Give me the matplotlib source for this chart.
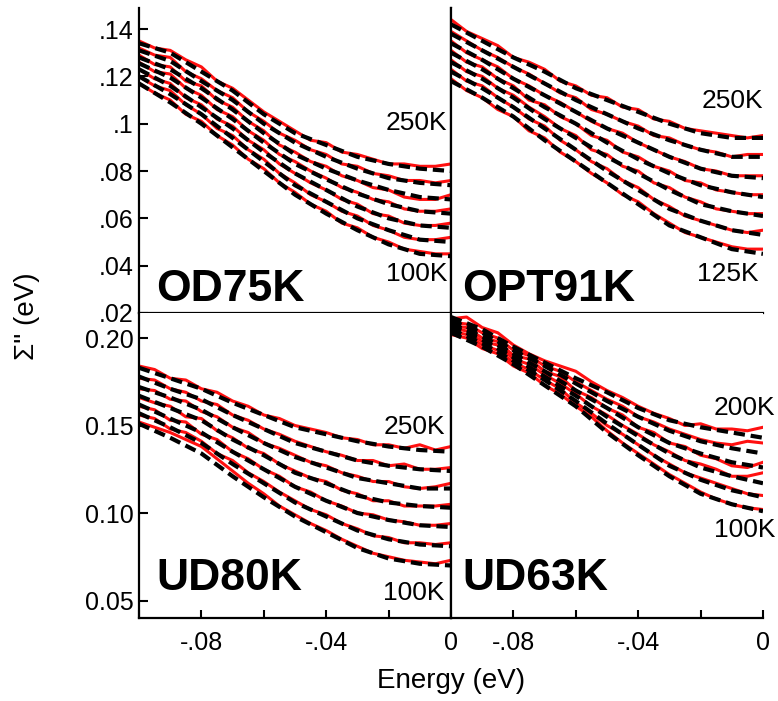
import matplotlib.pyplot as plt

plt.rcParams['font.family'] = ['Liberation Sans', 'DejaVu Sans']

# energy grids (eV)
energy_fit = [-0.10, -0.09, -0.08, -0.07, -0.06, -0.05, -0.04, -0.03, -0.02, -0.01, 0.0]
energy_data = [-0.100, -0.095, -0.090, -0.085, -0.080, -0.075, -0.070, -0.065, -0.060, -0.055,
               -0.050, -0.045, -0.040, -0.035, -0.030, -0.025, -0.020, -0.015, -0.010, -0.005, 0.0]

# OD75K, 250K ... 100K
od75_fit = [
    [0.134, 0.130, 0.122, 0.114, 0.104, 0.096, 0.091, 0.086, 0.083, 0.081, 0.080],
    [0.131, 0.1265, 0.118, 0.110, 0.100, 0.092, 0.086, 0.081, 0.077, 0.075, 0.074],
    [0.128, 0.123, 0.115, 0.106, 0.096, 0.087, 0.081, 0.076, 0.072, 0.069, 0.068],
    [0.1255, 0.1195, 0.111, 0.102, 0.092, 0.083, 0.0765, 0.0705, 0.066, 0.063, 0.062],
    [0.123, 0.116, 0.107, 0.098, 0.088, 0.079, 0.072, 0.065, 0.060, 0.057, 0.056],
    [0.120, 0.1125, 0.104, 0.094, 0.084, 0.074, 0.067, 0.060, 0.055, 0.051, 0.050],
    [0.117, 0.109, 0.100, 0.090, 0.080, 0.070, 0.062, 0.055, 0.049, 0.045, 0.044],
]
od75_data = [
    [0.135, 0.132, 0.131, 0.127, 0.124, 0.118, 0.115, 0.110, 0.105, 0.101, 0.097, 0.093, 0.092, 0.088, 0.087, 0.085, 0.083, 0.083, 0.082, 0.082, 0.083],
    [0.132, 0.129, 0.128, 0.122, 0.119, 0.114, 0.111, 0.105, 0.101, 0.096, 0.093, 0.089, 0.087, 0.083, 0.082, 0.079, 0.078, 0.076, 0.076, 0.075, 0.076],
    [0.129, 0.125, 0.124, 0.118, 0.116, 0.110, 0.107, 0.101, 0.097, 0.091, 0.088, 0.084, 0.082, 0.078, 0.076, 0.073, 0.072, 0.069, 0.068, 0.068, 0.070],
    [0.126, 0.122, 0.121, 0.115, 0.112, 0.106, 0.103, 0.097, 0.093, 0.087, 0.084, 0.080, 0.077, 0.073, 0.071, 0.068, 0.067, 0.064, 0.063, 0.063, 0.064],
    [0.123, 0.119, 0.117, 0.111, 0.108, 0.102, 0.099, 0.093, 0.089, 0.083, 0.079, 0.075, 0.072, 0.068, 0.066, 0.062, 0.061, 0.058, 0.057, 0.057, 0.058],
    [0.120, 0.116, 0.114, 0.108, 0.104, 0.098, 0.095, 0.089, 0.085, 0.079, 0.075, 0.070, 0.067, 0.063, 0.061, 0.057, 0.055, 0.052, 0.051, 0.051, 0.052],
    [0.117, 0.113, 0.110, 0.104, 0.101, 0.095, 0.091, 0.085, 0.081, 0.075, 0.071, 0.066, 0.063, 0.058, 0.056, 0.052, 0.050, 0.047, 0.046, 0.045, 0.045],
]

# OPT91K, 250K ... 125K
opt91_fit = [
    [0.142, 0.135, 0.128, 0.122, 0.115, 0.110, 0.105, 0.100, 0.096, 0.094, 0.094],
    [0.138, 0.131, 0.124, 0.117, 0.110, 0.104, 0.098, 0.093, 0.089, 0.086, 0.086],
    [0.134, 0.127, 0.119, 0.112, 0.105, 0.098, 0.092, 0.086, 0.081, 0.078, 0.077],
    [0.130, 0.123, 0.115, 0.107, 0.100, 0.092, 0.085, 0.079, 0.074, 0.071, 0.069],
    [0.126, 0.119, 0.111, 0.102, 0.094, 0.086, 0.079, 0.072, 0.066, 0.063, 0.061],
    [0.122, 0.115, 0.107, 0.098, 0.089, 0.080, 0.072, 0.064, 0.059, 0.055, 0.053],
    [0.118, 0.111, 0.103, 0.093, 0.084, 0.075, 0.066, 0.057, 0.052, 0.047, 0.045],
]
opt91_data = [
    [0.144, 0.139, 0.136, 0.133, 0.128, 0.126, 0.123, 0.118, 0.116, 0.112, 0.111, 0.107, 0.106, 0.102, 0.101, 0.098, 0.097, 0.096, 0.095, 0.094, 0.095],
    [0.139, 0.135, 0.131, 0.128, 0.124, 0.121, 0.117, 0.113, 0.111, 0.106, 0.104, 0.101, 0.099, 0.095, 0.094, 0.091, 0.089, 0.088, 0.086, 0.087, 0.087],
    [0.135, 0.130, 0.127, 0.124, 0.119, 0.116, 0.112, 0.109, 0.105, 0.101, 0.098, 0.096, 0.092, 0.089, 0.086, 0.084, 0.081, 0.080, 0.078, 0.078, 0.078],
    [0.131, 0.126, 0.124, 0.119, 0.116, 0.110, 0.108, 0.103, 0.100, 0.095, 0.093, 0.088, 0.086, 0.082, 0.080, 0.076, 0.075, 0.072, 0.071, 0.070, 0.070],
    [0.127, 0.122, 0.120, 0.115, 0.112, 0.107, 0.103, 0.098, 0.095, 0.089, 0.087, 0.082, 0.080, 0.075, 0.073, 0.069, 0.067, 0.064, 0.063, 0.062, 0.062],
    [0.123, 0.118, 0.116, 0.111, 0.107, 0.102, 0.099, 0.093, 0.089, 0.084, 0.081, 0.076, 0.073, 0.068, 0.065, 0.061, 0.059, 0.057, 0.055, 0.054, 0.055],
    [0.119, 0.114, 0.111, 0.106, 0.103, 0.097, 0.094, 0.088, 0.084, 0.079, 0.075, 0.070, 0.067, 0.062, 0.058, 0.054, 0.052, 0.050, 0.048, 0.047, 0.047],
]

# UD80K, 250K ... 100K
ud80_fit = [
    [0.183, 0.177, 0.171, 0.163, 0.156, 0.149, 0.145, 0.141, 0.138, 0.136, 0.135],
    [0.178, 0.171, 0.165, 0.156, 0.148, 0.140, 0.135, 0.130, 0.127, 0.125, 0.124],
    [0.172, 0.166, 0.159, 0.149, 0.140, 0.132, 0.126, 0.120, 0.117, 0.114, 0.114],
    [0.167, 0.160, 0.153, 0.142, 0.133, 0.123, 0.117, 0.110, 0.106, 0.104, 0.103],
    [0.162, 0.154, 0.146, 0.135, 0.125, 0.115, 0.107, 0.100, 0.096, 0.093, 0.092],
    [0.157, 0.149, 0.140, 0.128, 0.117, 0.106, 0.098, 0.090, 0.085, 0.082, 0.081],
    [0.151, 0.143, 0.134, 0.121, 0.109, 0.098, 0.089, 0.080, 0.074, 0.071, 0.070],
]
ud80_data = [
    [0.184, 0.182, 0.177, 0.176, 0.171, 0.169, 0.164, 0.161, 0.156, 0.154, 0.150, 0.148, 0.146, 0.143, 0.142, 0.139, 0.139, 0.137, 0.139, 0.136, 0.138],
    [0.177, 0.176, 0.171, 0.169, 0.164, 0.162, 0.156, 0.153, 0.148, 0.145, 0.141, 0.138, 0.135, 0.133, 0.130, 0.130, 0.127, 0.128, 0.125, 0.125, 0.126],
    [0.171, 0.170, 0.165, 0.164, 0.158, 0.155, 0.149, 0.146, 0.140, 0.137, 0.133, 0.129, 0.127, 0.123, 0.121, 0.118, 0.118, 0.115, 0.114, 0.115, 0.117],
    [0.166, 0.163, 0.161, 0.155, 0.154, 0.147, 0.143, 0.137, 0.134, 0.128, 0.124, 0.120, 0.118, 0.113, 0.111, 0.107, 0.107, 0.104, 0.104, 0.104, 0.105],
    [0.161, 0.159, 0.153, 0.152, 0.145, 0.142, 0.135, 0.131, 0.125, 0.121, 0.115, 0.112, 0.107, 0.104, 0.100, 0.099, 0.096, 0.095, 0.093, 0.093, 0.094],
    [0.156, 0.154, 0.148, 0.146, 0.141, 0.134, 0.130, 0.123, 0.118, 0.112, 0.107, 0.102, 0.099, 0.094, 0.091, 0.087, 0.086, 0.083, 0.083, 0.082, 0.083],
    [0.152, 0.149, 0.146, 0.142, 0.138, 0.131, 0.124, 0.117, 0.111, 0.104, 0.099, 0.094, 0.090, 0.085, 0.081, 0.077, 0.075, 0.073, 0.072, 0.071, 0.073],
]

# UD63K, 200K ... 100K
ud63_fit = [
    [0.212, 0.205, 0.195, 0.186, 0.177, 0.169, 0.160, 0.153, 0.149, 0.146, 0.143],
    [0.210, 0.203, 0.193, 0.184, 0.174, 0.164, 0.155, 0.147, 0.141, 0.137, 0.134],
    [0.208, 0.201, 0.191, 0.181, 0.170, 0.160, 0.149, 0.140, 0.134, 0.129, 0.126],
    [0.207, 0.199, 0.189, 0.178, 0.167, 0.155, 0.144, 0.134, 0.126, 0.121, 0.117],
    [0.205, 0.197, 0.187, 0.176, 0.164, 0.151, 0.139, 0.127, 0.119, 0.113, 0.109],
    [0.203, 0.195, 0.185, 0.173, 0.161, 0.146, 0.133, 0.121, 0.111, 0.105, 0.101],
]
ud63_data = [
    [0.211, 0.212, 0.206, 0.203, 0.196, 0.191, 0.187, 0.184, 0.181, 0.175, 0.170, 0.166, 0.161, 0.157, 0.154, 0.150, 0.151, 0.148, 0.148, 0.147, 0.149],
    [0.209, 0.208, 0.203, 0.200, 0.193, 0.190, 0.184, 0.181, 0.175, 0.170, 0.165, 0.161, 0.155, 0.152, 0.148, 0.145, 0.142, 0.140, 0.139, 0.141, 0.140],
    [0.207, 0.206, 0.200, 0.198, 0.190, 0.188, 0.181, 0.178, 0.170, 0.166, 0.160, 0.156, 0.149, 0.146, 0.140, 0.138, 0.133, 0.131, 0.127, 0.126, 0.129],
    [0.206, 0.204, 0.198, 0.196, 0.188, 0.185, 0.179, 0.174, 0.168, 0.161, 0.156, 0.150, 0.145, 0.139, 0.135, 0.130, 0.128, 0.125, 0.121, 0.121, 0.123],
    [0.204, 0.202, 0.196, 0.193, 0.186, 0.182, 0.176, 0.171, 0.163, 0.157, 0.150, 0.145, 0.139, 0.133, 0.128, 0.123, 0.120, 0.117, 0.114, 0.111, 0.110],
    [0.202, 0.200, 0.194, 0.191, 0.184, 0.180, 0.173, 0.168, 0.161, 0.155, 0.147, 0.140, 0.134, 0.128, 0.122, 0.117, 0.112, 0.108, 0.105, 0.103, 0.102],
]

top_yticks = [0.02, 0.04, 0.06, 0.08, 0.10, 0.12, 0.14]
top_ylabels = ['.02', '.04', '.06', '.08', '.1', '.12', '.14']
bot_yticks = [0.05, 0.10, 0.15, 0.20]
bot_ylabels = ['0.05', '0.10', '0.15', '0.20']
xticks_major = [-0.08, -0.04, 0.0]
xticks_minor = [-0.10, -0.06, -0.02]
xlabels = ['-.08', '-.04', '0']

W, H = 778, 701
fig = plt.figure(figsize=(W / 100, H / 100), dpi=100)

def make_ax(px, py):
    # px, py: left/top pixel of the panel
    return fig.add_axes([px / W, 1 - (py + 305) / H, 312 / W, 305 / H])

ax_tl = make_ax(139, 8)
ax_tr = make_ax(451, 8)
ax_bl = make_ax(139, 313)
ax_br = make_ax(451, 313)

panels = [
    (ax_tl, od75_data, od75_fit, 'OD75K', (0.02, 0.1489), ('250K', 0.987, 0.623), ('100K', 0.987, 0.128)),
    (ax_tr, opt91_data, opt91_fit, 'OPT91K', (0.02, 0.1489), ('250K', 1.0, 0.695), ('125K', 0.984, 0.128)),
    (ax_bl, ud80_data, ud80_fit, 'UD80K', (0.04, 0.2143), ('250K', 0.98, 0.626), ('100K', 0.98, 0.082)),
    (ax_br, ud63_data, ud63_fit, 'UD63K', (0.04, 0.2143), ('200K', 1.04, 0.689), ('100K', 1.04, 0.289)),
]

for ax, data, fit, name, ylim, lab_hi, lab_lo in panels:
    for curve in data:
        ax.plot(energy_data, curve, color='#ff1010', lw=2.2, zorder=2)
    for curve in fit:
        ax.plot(energy_fit, curve, color='black', lw=3.0, linestyle=(0, (2.7, 1.4)), zorder=3)
    ax.set_xlim(-0.1, 0.0)
    ax.set_ylim(*ylim)
    ax.spines['top'].set_visible(False)
    for s in ax.spines.values():
        s.set_linewidth(1.6)
    ax.text(0.035 if ax in (ax_tr, ax_br) else 0.055, 0.04 if ax in (ax_tl, ax_tr) else 0.092, name,
            transform=ax.transAxes, fontsize=32, fontweight='bold', ha='left', va='baseline')
    for txt, xx, yy in (lab_hi, lab_lo):
        ax.text(xx, yy, txt, transform=ax.transAxes, fontsize=19, ha='right', va='center')
    ax.set_xticks(xticks_major)
    ax.set_xticks(xticks_minor, minor=True)
    ax.tick_params(axis='x', which='both', direction='in', length=6, width=1.5, labelsize=18, pad=9)
    ax.tick_params(axis='y', which='both', direction='in', length=6.5, width=1.5, labelsize=18, pad=4)

for ax in (ax_tr, ax_br):
    ax.spines['right'].set_visible(False)
    ax.tick_params(axis='y', left=False, labelleft=False)

for ax in (ax_tl, ax_tr):
    ax.tick_params(axis='x', which='both', bottom=False, labelbottom=False)

for ax in (ax_bl, ax_br):
    ax.set_xticklabels(xlabels)

ax_tl.set_yticks(top_yticks)
ax_tl.set_yticklabels(top_ylabels)
ax_bl.set_yticks(bot_yticks)
ax_bl.set_yticklabels(bot_ylabels)

fig.text(451 / W, 1 - 681 / H, 'Energy (eV)', fontsize=20, ha='center', va='center')
fig.text(27 / W, 1 - 316 / H, 'Σ" (eV)', fontsize=20, ha='center', va='center', rotation=90)

fig.savefig('out.png', dpi=100)
